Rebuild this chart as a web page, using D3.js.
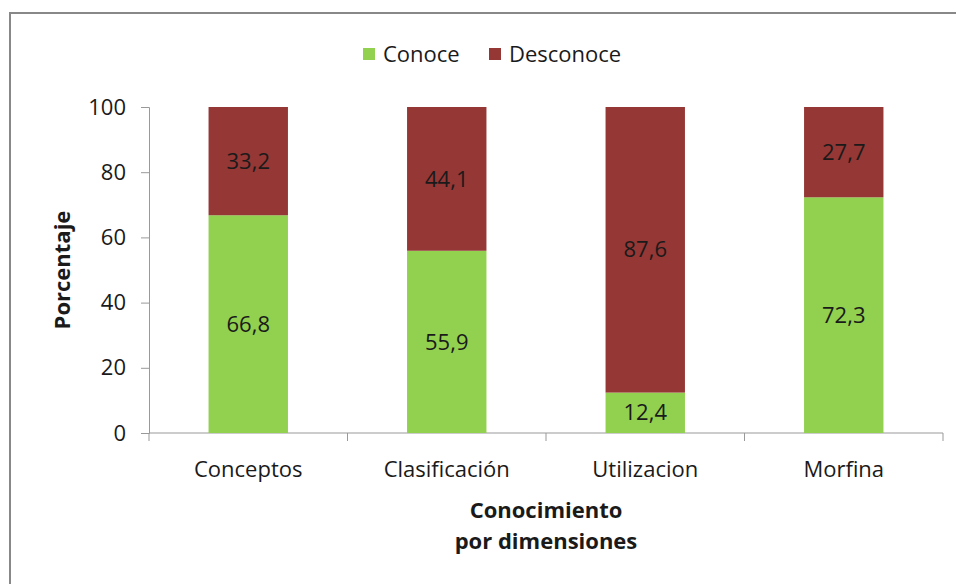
<!DOCTYPE html>
<html>
<head>
<meta charset="utf-8">
<script src="https://cdn.jsdelivr.net/npm/d3@7"></script>
<style>
  body { margin: 0; background: #fff; }
  text { font-family: "Open Sans", "Liberation Sans", sans-serif; fill: #1a1a1a; }
  .axis path, .axis line { stroke: #999; }
</style>
</head>
<body>
<div id="chart"></div>
<script>
// data
var categories = ['Conceptos', 'Clasificación', 'Utilizacion', 'Morfina']
var conoce = [66.8, 55.9, 12.4, 72.3]
var desconoce = [33.2, 44.1, 87.6, 27.7]
var seriesNames = ['Conoce', 'Desconoce']
var yTicks = [0, 20, 40, 60, 80, 100]

var colors = { Conoce: '#92D050', Desconoce: '#953735' }

var W = 956, H = 584
var margin = { top: 107, right: 13, bottom: 151, left: 149 }
var width = W - margin.left - margin.right
var height = H - margin.top - margin.bottom

var svg = d3.select('#chart').append('svg')
    .attr('width', W)
    .attr('height', H)

// outer frame (runs off the right and bottom edges)
svg.append('rect')
    .attr('x', 10).attr('y', 13)
    .attr('width', W + 20).attr('height', H + 20)
    .attr('fill', 'none')
    .attr('stroke', '#888')
    .attr('stroke-width', 2)

var g = svg.append('g')
    .attr('transform', 'translate(' + margin.left + ',' + margin.top + ')')

var xScale = d3.scaleBand().domain(categories).range([0, width])
var yScale = d3.scaleLinear().domain([0, 100]).range([height, 0])
var barW = xScale.bandwidth() * 0.4

// axes
var yAxis = d3.axisLeft(yScale).tickValues(yTicks).tickSize(8).tickPadding(15)
g.append('g').attr('class', 'y axis').call(yAxis)
    .call(function (a) {
      a.selectAll('text').style('font-size', '22px').style('font-family', null)
    })

var xAxisG = g.append('g').attr('class', 'x axis')
    .attr('transform', 'translate(0,' + height + ')')
xAxisG.append('line').attr('x1', 0).attr('x2', width).attr('stroke', '#999')
xAxisG.selectAll('.xtick')
    .data(d3.range(categories.length + 1))
    .enter().append('line')
    .attr('x1', function (i) { return i * xScale.step() })
    .attr('x2', function (i) { return i * xScale.step() })
    .attr('y1', 0).attr('y2', 8)
    .attr('stroke', '#999')
xAxisG.selectAll('.xlabel')
    .data(categories)
    .enter().append('text')
    .attr('x', function (d) { return xScale(d) + xScale.bandwidth() / 2 })
    .attr('y', 44)
    .attr('text-anchor', 'middle')
    .style('font-size', '22px')
    .text(function (d) { return d })

// stacked bars
var rows = categories.map(function (c, i) {
  return { cat: c, Conoce: conoce[i], Desconoce: desconoce[i] }
})
var stack = d3.stack().keys(seriesNames)(rows)

var layers = g.selectAll('.layer')
    .data(stack)
    .enter().append('g')
    .attr('class', 'layer')
    .attr('fill', function (d) { return colors[d.key] })

layers.selectAll('rect')
    .data(function (d) { return d })
    .enter().append('rect')
    .attr('x', function (d) { return xScale(d.data.cat) + (xScale.bandwidth() - barW) / 2 })
    .attr('width', barW)
    .attr('y', function (d) { return yScale(d[1]) })
    .attr('height', function (d) { return yScale(d[0]) - yScale(d[1]) })

layers.selectAll('text')
    .data(function (d) { return d })
    .enter().append('text')
    .attr('x', function (d) { return xScale(d.data.cat) + xScale.bandwidth() / 2 })
    .attr('y', function (d) { return yScale((d[0] + d[1]) / 2) })
    .attr('dy', '0.35em')
    .attr('text-anchor', 'middle')
    .style('font-size', '22px')
    .text(function (d) { return (d[1] - d[0]).toFixed(1).replace('.', ',') })

// axis titles
svg.append('text')
    .attr('transform', 'translate(70,' + (margin.top + height / 2) + ') rotate(-90)')
    .attr('text-anchor', 'middle')
    .style('font-size', '22px')
    .style('font-weight', 'bold')
    .text('Porcentaje')

var xt = svg.append('text')
    .attr('x', margin.left + width / 2)
    .attr('y', 518)
    .attr('text-anchor', 'middle')
    .style('font-size', '22px')
    .style('font-weight', 'bold')
xt.append('tspan').attr('x', margin.left + width / 2).text('Conocimiento')
xt.append('tspan').attr('x', margin.left + width / 2).attr('dy', 31).text('por dimensiones')

// legend
var legend = svg.append('g').attr('transform', 'translate(363,54)')
var legX = [0, 126]
seriesNames.forEach(function (s, i) {
  legend.append('rect')
      .attr('x', legX[i]).attr('y', -6)
      .attr('width', 12).attr('height', 12)
      .attr('fill', colors[s])
  legend.append('text')
      .attr('x', legX[i] + 20).attr('y', 0)
      .attr('dy', '0.35em')
      .style('font-size', '22px')
      .text(s)
})
</script>
</body>
</html>
